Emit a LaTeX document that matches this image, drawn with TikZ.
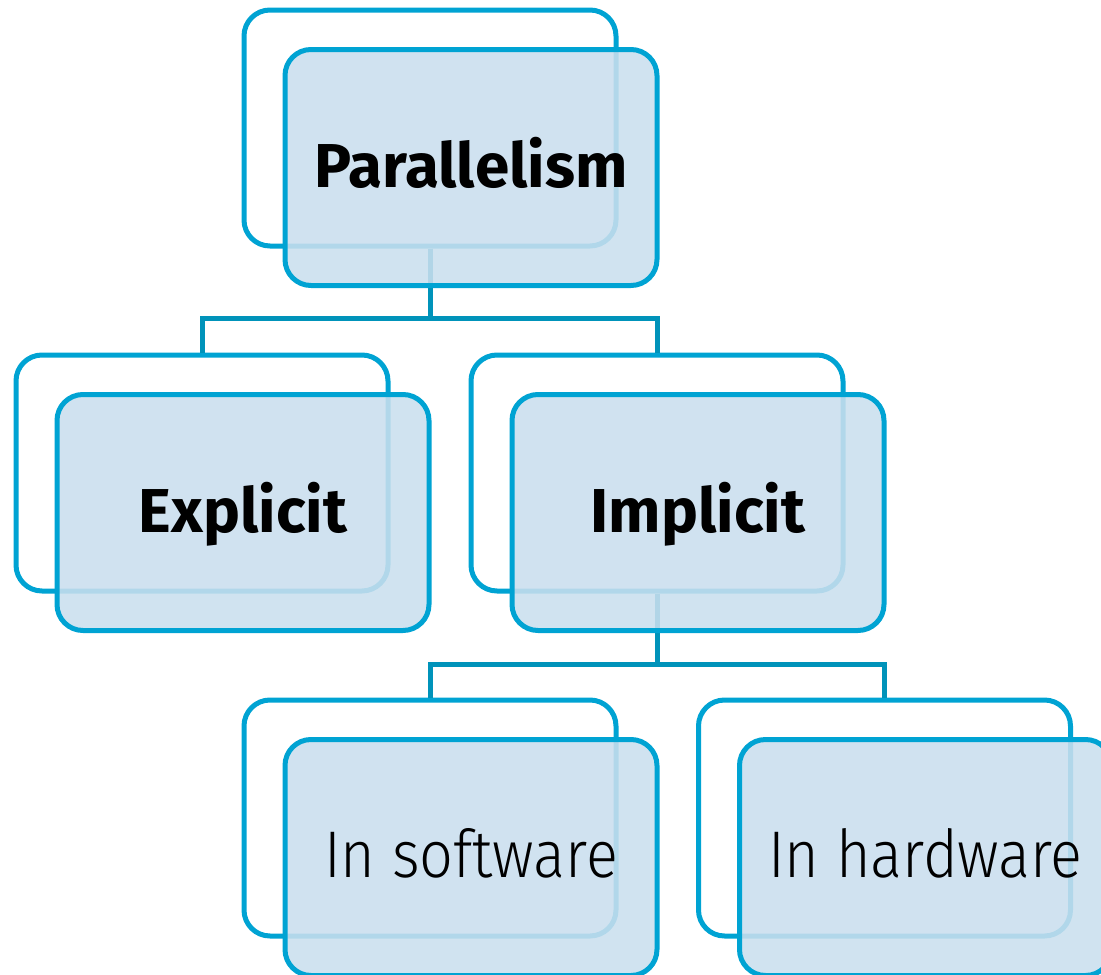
\documentclass[tikz,border=0pt]{standalone}
\usepackage{fontspec}
\setmainfont{Fira Sans}
\newfontfamily\lightfont[FakeStretch=0.9]{Fira Sans Light}
\definecolor{boxline}{HTML}{00A3D3}
\definecolor{linkline}{HTML}{0093BA}
\definecolor{boxfill}{HTML}{CADFEE}
\tikzset{
  backbox/.style={draw=boxline, line width=5pt, rounded corners=26pt,
    minimum width=372pt, minimum height=236pt, inner sep=0pt, fill=white},
  frontbox/.style={draw=boxline, line width=5pt, rounded corners=26pt,
    minimum width=372pt, minimum height=236pt, inner sep=0pt,
    text height=40pt, text depth=0pt,
    fill=boxfill, fill opacity=0.88, text opacity=1},
  link/.style={draw=linkline, line width=5pt},
  headtext/.style={font=\fontsize{62}{70}\bfseries\selectfont},
  leaftext/.style={font=\fontsize{66}{72}\lightfont\selectfont},
}
\begin{document}
\begin{tikzpicture}[x=1pt,y=-1pt]
\useasboundingbox (0,0) rectangle (1101,975);
\clip (0,0) rectangle (1101,975);
% back frames
\node[backbox] (pb) at (430,128) {};
\node[backbox] (eb) at (202,473) {};
\node[backbox] (ib) at (657,473) {};
\node[backbox] (sb) at (430,818) {};
\node[backbox] (hb) at (884.5,818) {};
% tree connectors
\coordinate (j1) at (430,318);
\coordinate (j2) at (657,664);
\draw[link] (pb.south) -- (j1);
\draw[link] (eb.north) |- (j1) -| (ib.north);
\draw[link] (ib.south) -- (j2);
\draw[link] (sb.north) |- (j2) -| (hb.north);
% front cards with labels
\node[frontbox, headtext] (pf) at (471,167.5) {Parallelism};
\node[frontbox, headtext] (ef) at (243,512.5) {Explicit};
\node[frontbox, headtext] (if) at (698,512.5) {Implicit};
\node[frontbox, leaftext] (sf) at (471,857.5) {In software};
\node[frontbox, leaftext] (hf) at (925.5,857.5) {In hardware};
\end{tikzpicture}
\end{document}
